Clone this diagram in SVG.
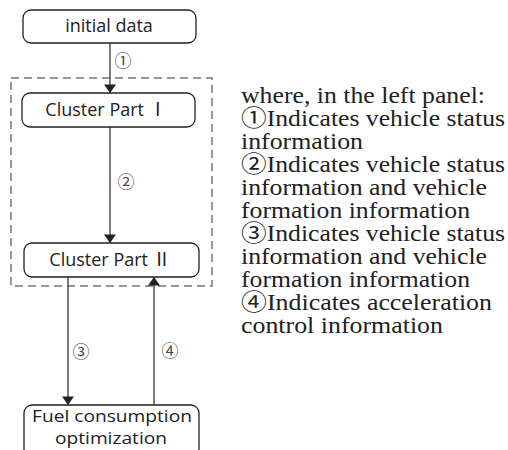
<svg xmlns="http://www.w3.org/2000/svg" width="508" height="450" viewBox="0 0 508 450">
<defs>
<marker id="ah" viewBox="0 0 10 14" refX="10" refY="7" markerWidth="9" markerHeight="12" markerUnits="userSpaceOnUse" orient="auto">
<path d="M0,0 L10,7 L0,14 Z" fill="#222"/>
</marker>
<style>
.box{fill:#fff;stroke:#222;stroke-width:1.3}
.lbl{font-family:"Open Sans","Noto Sans CJK SC",sans-serif;font-size:18px;fill:#222;text-anchor:middle}
.lbl2{font-family:"Open Sans","Noto Sans CJK SC",sans-serif;font-size:17px;fill:#222;text-anchor:middle}
.num{font-family:"Noto Sans CJK SC",sans-serif;font-size:17px;fill:#444;text-anchor:middle}
.con{stroke:#444;stroke-width:1.4;fill:none}
.note{font-family:"Liberation Serif","Noto Sans CJK SC",serif;font-size:23px;fill:#222}
</style>
</defs>
<rect x="11" y="78" width="201" height="208" fill="none" stroke="#777" stroke-width="1.5" stroke-dasharray="8,5"/>
<g id="connectors">
<line class="con" x1="110" y1="43" x2="110" y2="93" marker-end="url(#ah)"/>
<line class="con" x1="110" y1="127" x2="110" y2="243" marker-end="url(#ah)"/>
<line class="con" x1="68" y1="277" x2="68" y2="405" marker-end="url(#ah)"/>
<line class="con" x1="154" y1="405" x2="154" y2="277" marker-end="url(#ah)"/>
<text class="num" x="123" y="67">①</text>
<text class="num" x="126" y="188">②</text>
<text class="num" x="81" y="358">③</text>
<text class="num" x="170" y="357">④</text>
</g>
<g id="initial-data">
<rect class="box" x="23" y="10" width="173" height="33" rx="8"/>
<text class="lbl" x="109" y="32">initial data</text>
</g>
<g id="cluster-1">
<rect class="box" x="22" y="93" width="173" height="34" rx="8"/>
<text class="lbl" x="106" y="116">Cluster Part Ⅰ</text>
</g>
<g id="cluster-2">
<rect class="box" x="24" y="243" width="175" height="34" rx="8"/>
<text class="lbl" x="110" y="266">Cluster Part Ⅱ</text>
</g>
<g id="fuel">
<rect class="box" x="24" y="405" width="175" height="52" rx="8"/>
<text class="lbl2" x="112" y="422" textLength="160" lengthAdjust="spacingAndGlyphs">Fuel consumption</text>
<text class="lbl2" x="111" y="444" textLength="112" lengthAdjust="spacingAndGlyphs">optimization</text>
</g>
<g id="notes">
<text class="note" x="241" y="103" textLength="244" lengthAdjust="spacingAndGlyphs">where, in the left panel:</text>
<text class="note" x="241" y="126" textLength="264" lengthAdjust="spacingAndGlyphs">①Indicates vehicle status</text>
<text class="note" x="241" y="149" textLength="122" lengthAdjust="spacingAndGlyphs">information</text>
<text class="note" x="241" y="172" textLength="264" lengthAdjust="spacingAndGlyphs">②Indicates vehicle status</text>
<text class="note" x="241" y="195" textLength="246" lengthAdjust="spacingAndGlyphs">information and vehicle</text>
<text class="note" x="241" y="218" textLength="229" lengthAdjust="spacingAndGlyphs">formation information</text>
<text class="note" x="241" y="241" textLength="264" lengthAdjust="spacingAndGlyphs">③Indicates vehicle status</text>
<text class="note" x="241" y="264" textLength="246" lengthAdjust="spacingAndGlyphs">information and vehicle</text>
<text class="note" x="241" y="287" textLength="229" lengthAdjust="spacingAndGlyphs">formation information</text>
<text class="note" x="241" y="310" textLength="251" lengthAdjust="spacingAndGlyphs">④Indicates acceleration</text>
<text class="note" x="241" y="333" textLength="202" lengthAdjust="spacingAndGlyphs">control information</text>
</g>
</svg>
